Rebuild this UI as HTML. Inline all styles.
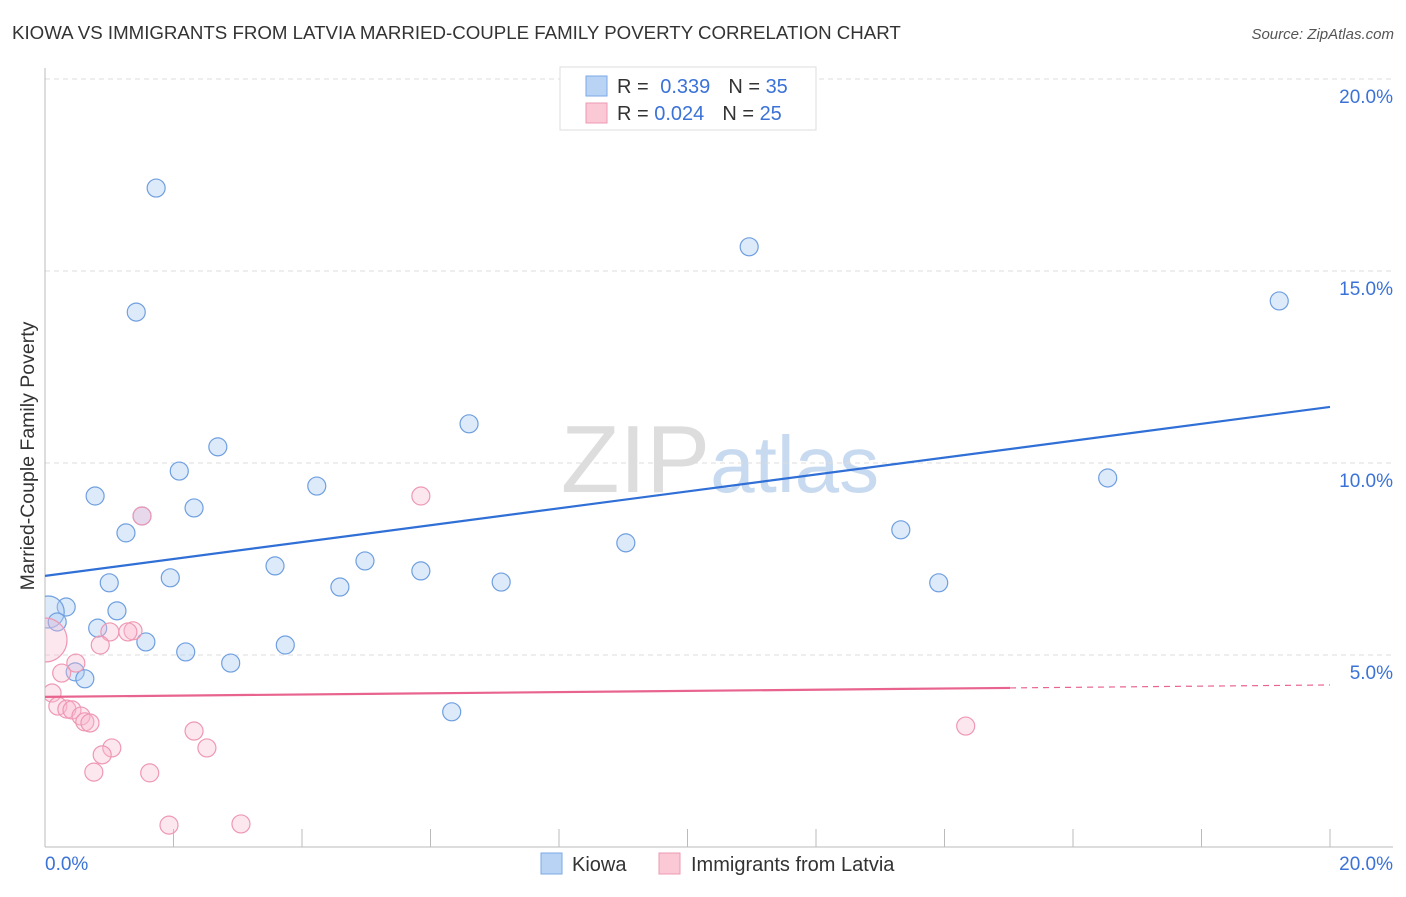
<!DOCTYPE html>
<html><head><meta charset="utf-8"><style>
body{margin:0;background:#fff;font-family:"Liberation Sans",sans-serif;}
svg text{font-family:"Liberation Sans",sans-serif;}
</style></head><body>
<svg id="chart" width="1406" height="892" xmlns="http://www.w3.org/2000/svg">
<defs><clipPath id="plotclip"><rect x="45" y="60" width="1360" height="787"/></clipPath></defs>
<text x="12" y="39" font-size="18.7" fill="#333">KIOWA VS IMMIGRANTS FROM LATVIA MARRIED-COUPLE FAMILY POVERTY CORRELATION CHART</text>
<text x="1394" y="39" font-size="15" font-style="italic" fill="#555" text-anchor="end">Source: ZipAtlas.com</text>
<text x="720" y="492" font-size="96" text-anchor="middle" fill="#ddd" font-family="Liberation Serif">ZIP<tspan fill="#c8daf0" font-family="Liberation Sans" font-size="80">atlas</tspan></text>
<text transform="translate(34,456) rotate(-90)" font-size="19.5" fill="#333" text-anchor="middle">Married-Couple Family Poverty</text>
<g id="grid"></g><g id="axes"></g><g id="marks" clip-path="url(#plotclip)"></g>
<g>
<rect x="560" y="67" width="256" height="63" fill="#fff" stroke="#ddd"/>
<rect x="586" y="76" width="21" height="20" fill="#b9d3f5" stroke="#7aa8e6"/>
<text x="617" y="93" font-size="20" fill="#333">R = <tspan fill="#3a72d8" dx="6">0.339</tspan><tspan dx="18" fill="#333">N = </tspan><tspan fill="#3a72d8">35</tspan></text>
<rect x="586" y="103" width="21" height="20" fill="#fbc8d6" stroke="#ee98b3"/>
<text x="617" y="120" font-size="20" fill="#333">R = <tspan fill="#3a72d8">0.024</tspan><tspan dx="18" fill="#333">N = </tspan><tspan fill="#3a72d8">25</tspan></text>
</g>
<g>
<rect x="541" y="853" width="21" height="21" fill="#b9d3f5" stroke="#7aa8e6"/>
<text x="572" y="871" font-size="20" fill="#333">Kiowa</text>
<rect x="659" y="853" width="21" height="21" fill="#fbc8d6" stroke="#ee98b3"/>
<text x="691" y="871" font-size="20" fill="#333">Immigrants from Latvia</text>
</g>
</svg>
<script>
const kiowaX=[1.73,10.96,1.42,19.21,6.60,2.69,2.09,0.78,4.23,16.54,2.32,1.51,1.26,9.04,13.32,4.98,3.58,5.85,1.95,1.00,7.10,4.59,13.91,0.33,1.12,0.05,0.19,0.82,1.57,3.74,2.19,2.89,0.47,0.62,6.33];
const kiowaY=[17.16,15.63,13.93,14.22,11.02,10.42,9.79,9.14,9.40,9.61,8.83,8.62,8.18,7.92,8.26,7.45,7.32,7.19,7.01,6.88,6.90,6.77,6.88,6.25,6.15,6.12,5.86,5.70,5.34,5.26,5.08,4.79,4.56,4.38,3.52];
const latviaX=[0,5.85,1.51,1.01,1.37,1.29,0.86,0.48,0.26,0.11,0.20,0.34,0.42,0.56,0.62,0.70,2.32,1.04,0.89,2.52,14.33,0.76,1.63,1.93,3.05];
const latviaY=[5.39,9.14,8.62,5.60,5.63,5.60,5.26,4.79,4.53,4.01,3.67,3.59,3.57,3.41,3.26,3.23,3.02,2.58,2.40,2.58,3.15,1.95,1.93,0.57,0.60];
const kiowaTrend=[7.06,11.46];
const latviaTrend=[3.91,4.22];
const latviaSolidEnd=15.02;
const yTicks=[5,10,15,20];
const yTickLabels=["5.0%","10.0%","15.0%","20.0%"];
const xTicks=[0,2,4,6,8,10,12,14,16,18,20];
const xLabels=["0.0%","20.0%"];
const NS="http://www.w3.org/2000/svg";
const sx=v=>45+v*64.25, sy=v=>847-v*38.4;
function mk(tag,attrs,parent){const e=document.createElementNS(NS,tag);for(const k in attrs)e.setAttribute(k,attrs[k]);document.getElementById(parent).appendChild(e);return e;}
yTicks.forEach((t,i)=>{
 const l=mk('line',{x1:45,x2:1393,y1:sy(t),y2:sy(t),stroke:'#ddd','stroke-dasharray':'5,4'},'grid');
 
 
 const tx=mk('text',{x:1393,y:sy(t)+24,'font-size':19,fill:'#3a72d8','text-anchor':'end'},'grid');
 tx.textContent=yTickLabels[i];
 
 
});
const ax=mk('line',{x1:45,x2:45,y1:68,y2:847,stroke:'#bbb'},'axes');


const bx=mk('line',{x1:45,x2:1393,y1:847,y2:847,stroke:'#bbb'},'axes');


xTicks.forEach(t=>{const l=mk('line',{x1:sx(t),x2:sx(t),y1:829,y2:847,stroke:'#bbb'},'axes');
 
 });
const xl0=mk('text',{x:45,y:870,'font-size':19,fill:'#3a72d8'},'axes');xl0.textContent=xLabels[0];


const xl1=mk('text',{x:1393,y:870,'font-size':19,fill:'#3a72d8','text-anchor':'end'},'axes');xl1.textContent=xLabels[1];


kiowaX.forEach((x,i)=>{const c=mk('circle',{cx:sx(x),cy:sy(kiowaY[i]),r:(x<0.1?16:9),fill:'rgba(170,202,242,0.4)',stroke:'#6f9fe0','stroke-width':1.2},'marks');
 
 });
latviaX.forEach((x,i)=>{const c=mk('circle',{cx:sx(x),cy:sy(latviaY[i]),r:(x===0?22:9),fill:'rgba(248,185,205,0.35)',stroke:'#ee98b3','stroke-width':1.2},'marks');
 
 });
const kt=mk('line',{x1:sx(0),y1:sy(kiowaTrend[0]),x2:sx(20),y2:sy(kiowaTrend[1]),stroke:'#2f6fd6','stroke-width':2.2},'marks');


const ly=x=>latviaTrend[0]+(latviaTrend[1]-latviaTrend[0])*x/20;
const lt=mk('line',{x1:sx(0),y1:sy(ly(0)),x2:sx(latviaSolidEnd),y2:sy(ly(latviaSolidEnd)),stroke:'#e8648f','stroke-width':2.2},'marks');


const ld=mk('line',{x1:sx(latviaSolidEnd),y1:sy(ly(latviaSolidEnd)),x2:sx(20),y2:sy(ly(20)),stroke:'#e8648f','stroke-width':1.2,'stroke-dasharray':'6,5'},'marks');


</script>
</body></html>
